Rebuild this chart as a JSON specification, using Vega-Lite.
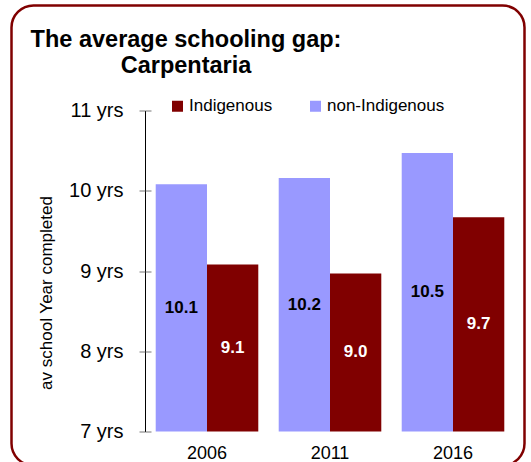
{
  "$schema": "https://vega.github.io/schema/vega-lite/v6.json",
  "autosize": "none",
  "width": 513,
  "height": 460,
  "padding": {"left": 11.5, "top": 5.5, "right": 6.5, "bottom": 0},
  "background": "white",
  "title": {
    "text": ["The average schooling gap:", "Carpentaria"],
    "anchor": "start",
    "align": "center",
    "dx": 174.5,
    "offset": -72,
    "font": "Liberation Sans",
    "fontSize": 23.5,
    "fontWeight": "bold",
    "color": "black",
    "lineHeight": 26
  },
  "config": {
    "font": "Liberation Sans",
    "view": {"stroke": "#800000", "strokeWidth": 2.5, "cornerRadius": 22}
  },
  "data": {
    "values": [
      {"year": "2006", "group": "non-Indigenous", "value": 10.08},
      {"year": "2006", "group": "Indigenous", "value": 9.08},
      {"year": "2011", "group": "non-Indigenous", "value": 10.16},
      {"year": "2011", "group": "Indigenous", "value": 8.97},
      {"year": "2016", "group": "non-Indigenous", "value": 10.47},
      {"year": "2016", "group": "Indigenous", "value": 9.67}
    ]
  },
  "encoding": {
    "x": {
      "field": "year",
      "type": "nominal",
      "scale": {"range": [134, 503], "paddingInner": 0.166, "paddingOuter": 0.083},
      "axis": {
        "orient": "bottom",
        "offset": -34,
        "domain": false,
        "ticks": false,
        "labelAngle": 0,
        "labelFontSize": 18,
        "labelColor": "black",
        "labelPadding": 13,
        "title": null
      }
    },
    "xOffset": {"field": "group", "type": "nominal", "sort": ["non-Indigenous", "Indigenous"]}
  },
  "layer": [
    {
      "mark": {"type": "bar"},
      "encoding": {
        "y": {
          "field": "value",
          "type": "quantitative",
          "scale": {"domain": [7, 11], "range": [426, 105], "zero": false, "nice": false},
          "axis": {
            "orient": "left",
            "offset": -133.5,
            "values": [7, 8, 9, 10, 11],
            "labelExpr": "datum.value + ' yrs'",
            "labelFontSize": 20,
            "labelColor": "black",
            "labelPadding": 16,
            "tickSize": 6,
            "tickColor": "#777777",
            "domainColor": "black",
            "grid": false,
            "title": "av  school Year completed",
            "titleFontSize": 17,
            "titleFontWeight": "normal",
            "titleColor": "black",
            "titleX": -99,
            "titleY": 287,
            "titleAngle": -90,
            "titleAlign": "center",
            "titleBaseline": "middle"
          }
        },
        "y2": {"datum": 7},
        "color": {
          "field": "group",
          "type": "nominal",
          "scale": {"domain": ["Indigenous", "non-Indigenous"], "range": ["#800000", "#9999FF"]},
          "legend": {
            "orient": "none",
            "legendX": 157.5,
            "legendY": 92,
            "direction": "horizontal",
            "title": null,
            "symbolType": "square",
            "symbolSize": 121,
            "symbolStrokeWidth": 0,
            "labelFontSize": 17,
            "labelOffset": 3,
            "columnPadding": 34,
            "labelColor": "black"
          }
        }
      }
    },
    {
      "mark": {"type": "text", "fontWeight": "bold", "fontSize": 17, "baseline": "middle"},
      "encoding": {
        "y": {
          "field": "value",
          "type": "quantitative",
          "scale": {"domain": [7, 15], "range": [426, 105], "zero": false, "nice": false},
          "axis": {
            "orient": "right",
            "offset": -379.5,
            "values": [7, 9, 11, 13, 15],
            "labels": false,
            "domain": false,
            "tickSize": 6,
            "tickColor": "#777777",
            "grid": false,
            "title": null
          }
        },
        "text": {"field": "value", "format": ".1f"},
        "color": {
          "condition": {"test": "datum.group === 'Indigenous'", "value": "white"},
          "value": "black"
        }
      }
    }
  ],
  "resolve": {"axis": {"y": "independent"}, "scale": {"y": "independent"}}
}
